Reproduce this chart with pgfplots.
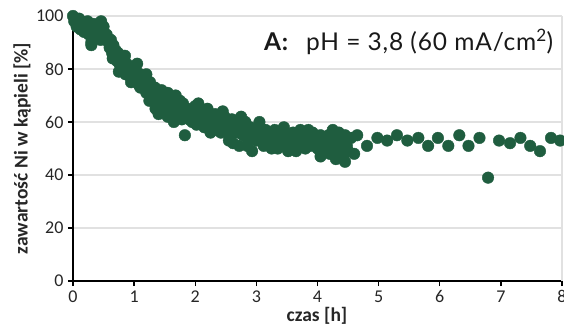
\documentclass[border=0pt]{standalone}
\usepackage{fontspec}
\setmainfont{Carlito}
\newfontfamily\lato[LetterSpace=3.5]{Lato}
\usepackage{pgfplots}
\pgfplotsset{compat=1.18}
\definecolor{dotgreen}{RGB}{31,93,63}
\definecolor{gridgray}{RGB}{225,225,225}
\begin{document}
\begin{tikzpicture}
\begin{axis}[
  scale only axis, width=489pt, height=265pt,
  xmin=0, xmax=8, ymin=0, ymax=100,
  axis lines*=left,
  axis line style={line width=1.6pt, black},
  xtick={0,1,...,8}, ytick={0,20,...,100},
  ymajorgrids, major grid style={gridgray, line width=1.2pt},
  tick align=outside, major tick length=5pt,
  tick style={black, line width=1.3pt},
  /pgf/number format/assume math mode=true,
  tick label style={font=\fontsize{18}{20}\selectfont, text=black!85},
  xticklabel style={yshift=-1pt},
  yticklabel style={xshift=-1pt},
  label style={font=\fontsize{19.5}{22}\selectfont\bfseries, text=black!85},
  xlabel={czas [h]},
  ylabel={zawartość Ni w kąpieli [\%]},
  xlabel style={at={(axis description cs:0.499,-0.132)}, anchor=center},
  ylabel style={at={(axis description cs:-0.104,0.5)}, anchor=center, rotate=0},
  clip=false,
]
\draw[gridgray, line width=1.2pt] (axis cs:8,0) -- (axis cs:8,100);
\addplot[only marks, mark=*, mark size=5.8pt, color=dotgreen, mark options={draw=dotgreen, fill=dotgreen}] coordinates {
(0.00,100) (0.02,98) (0.04,99) (0.06,96) (0.08,97) (0.10,99) (0.12,95) (0.14,98)
(0.16,96) (0.18,94) (0.20,97) (0.22,95) (0.24,98) (0.26,93) (0.28,96) (0.30,90)
(0.32,94) (0.34,97) (0.36,95) (0.38,92) (0.40,96) (0.42,93) (0.44,95) (0.46,98)
(0.48,94) (0.50,96) (0.52,92) (0.55,93) (0.58,90) (0.60,88) (0.62,91) (0.64,86)
(0.66,89) (0.68,85) (0.70,87) (0.72,83) (0.74,86) (0.76,82) (0.78,84) (0.80,80)
(0.82,83) (0.84,81) (0.86,78) (0.88,82) (0.90,79) (0.92,81) (0.94,77) (0.96,80)
(0.98,78) (1.00,81) (1.02,76) (1.04,79) (1.06,77) (1.08,74) (1.10,78) (1.12,75)
(1.14,77) (1.16,73) (1.18,76) (1.20,71) (1.22,74) (1.24,72) (1.26,75) (1.28,69)
(1.30,72) (1.32,70) (1.34,73) (1.36,67) (1.38,71) (1.40,63) (1.42,69) (1.44,66)
(1.46,70) (1.48,67) (1.50,65) (1.52,68) (1.55,62) (1.58,66) (1.60,69) (1.62,64)
(1.64,67) (1.66,63) (1.68,70) (1.70,65) (1.72,62) (1.74,66) (1.76,64) (1.78,61)
(1.80,67) (1.83,55) (1.85,63) (1.88,65) (1.90,61) (1.92,64) (1.95,60) (1.98,63)
(2.00,66) (2.02,59) (2.05,62) (2.08,64) (2.10,60) (2.12,63) (2.15,58) (2.18,61)
(2.20,65) (2.22,59) (2.25,62) (2.28,60) (2.30,57) (2.32,63) (2.35,60) (2.38,58)
(2.40,61) (2.42,56) (2.45,59) (2.48,62) (2.50,57) (2.52,60) (2.55,58) (2.58,55)
(2.60,61) (2.62,52) (2.65,57) (2.68,59) (2.70,56) (2.72,51) (2.75,58) (2.78,55)
(2.80,57) (2.82,60) (2.85,54) (2.88,56) (2.90,58) (2.93,49) (2.95,55) (2.98,57)
(3.00,53) (3.02,56) (3.05,58) (3.08,54) (3.10,55) (3.12,51) (3.15,57) (3.18,53)
(3.20,56) (3.22,54) (3.25,52) (3.28,55) (3.30,57) (3.32,53) (3.35,50) (3.38,55)
(3.40,54) (3.42,52) (3.45,56) (3.48,53) (3.50,55) (3.52,49) (3.55,54) (3.58,52)
(3.60,56) (3.62,53) (3.65,51) (3.68,55) (3.70,53) (3.72,57) (3.75,52) (3.78,54)
(3.80,50) (3.82,55) (3.85,53) (3.88,51) (3.90,54) (3.92,56) (3.95,52) (3.98,54)
(4.00,50) (4.02,53) (4.05,55) (4.08,51) (4.10,54) (4.12,49) (4.15,52) (4.18,55)
(4.20,48) (4.22,53) (4.25,51) (4.28,54) (4.30,46) (4.32,50) (4.35,52) (4.38,49)
(4.40,53) (4.42,47) (4.45,55) (4.48,51) (4.50,49) (4.55,54) (4.60,48) (4.65,55)
(0.30,89) (0.45,91) (0.75,79) (0.95,75) (1.05,82) (1.25,68) (1.45,72) (1.65,60)
(1.75,68) (2.05,67) (2.25,56) (2.45,64) (2.55,53) (2.75,62) (2.85,51) (3.05,60)
(3.25,50) (3.45,58) (3.65,49) (3.85,57) (4.05,47) (4.25,57) (4.45,45) (4.35,56)
(1.10,73) (1.20,78) (1.35,65) (1.55,71) (0.85,85) (0.65,84)
(4.81,51) (4.98,54) (5.14,53) (5.30,55) (5.47,53) (5.65,54) (5.81,51) (5.97,54)
(6.14,51) (6.32,55) (6.47,51) (6.65,54) (6.79,39) (6.97,53) (7.15,52) (7.32,54)
(7.48,51) (7.64,49) (7.82,54) (7.97,53)
};
\node[anchor=base east, inner sep=0pt, text=black!90] at (axis cs:7.86,86.8)
  {\fontsize{24.5}{27}\selectfont\lato{\bfseries A:}\hspace{18pt}pH = 3,8 (60 mA/cm\textsuperscript{2})};
\end{axis}
\pgfresetboundingbox
\path ([xshift=-73pt,yshift=-46pt]current axis.south west) rectangle ([xshift=2pt,yshift=16pt]current axis.north east);
\end{tikzpicture}
\end{document}
